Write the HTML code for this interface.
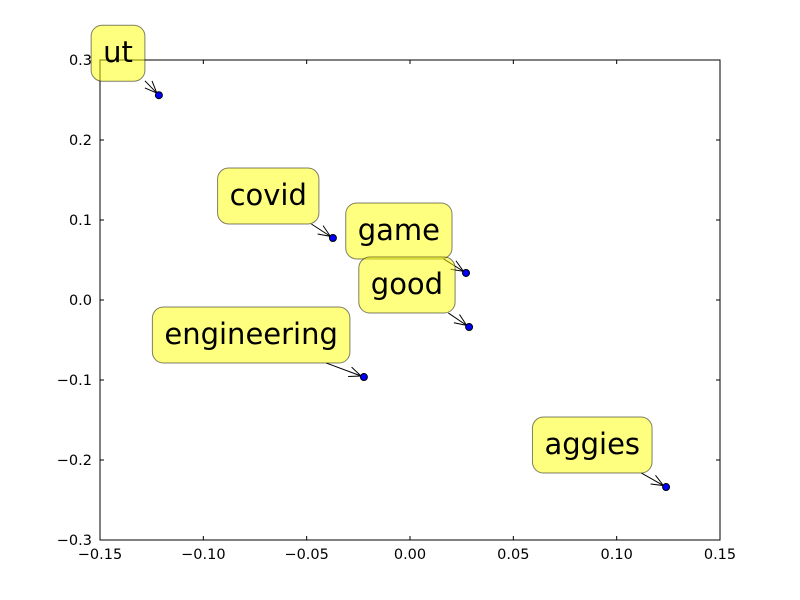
<!DOCTYPE html>
<html><head><meta charset="utf-8"><style>
body{margin:0;background:#fff;}
svg{display:block;font-family:"DejaVu Sans","Liberation Sans",sans-serif;}
</style></head><body>
<svg id="chart" width="800" height="600">
<rect width="800" height="600" fill="#fff"/>
<g id="axes"></g>
<g id="marks"></g>
</svg>
<script>
const words = ["ut","covid","game","good","engineering","aggies"];
const xVals = [-0.1215,-0.0373,0.0271,0.0286,-0.0223,0.1239];
const yVals = [0.256,0.0775,0.0338,-0.0338,-0.0963,-0.2338];
const xTicks = [-0.15,-0.10,-0.05,0.00,0.05,0.10,0.15];
const yTicks = [-0.3,-0.2,-0.1,0.0,0.1,0.2,0.3];
const xTickLabels = ["−0.15","−0.10","−0.05","0.00","0.05","0.10","0.15"];
const yTickLabels = ["−0.3","−0.2","−0.1","0.0","0.1","0.2","0.3"];

const L=100,R=720,T=60,B=540;
const sx=v=>L+(v+0.15)/0.3*(R-L);
const sy=v=>T+(0.3-v)/0.6*(B-T);
const NS="http://www.w3.org/2000/svg";
function mk(tag,attrs,parent){const e=document.createElementNS(NS,tag);for(const k in attrs)e.setAttribute(k,attrs[k]);parent.appendChild(e);return e;}
const axes=document.getElementById('axes'), marks=document.getElementById('marks');

const frame=mk('rect',{x:L,y:T,width:R-L,height:B-T,fill:'none',stroke:'#000','stroke-width':1},axes);



xTicks.forEach((v,i)=>{
  const x=sx(v);
  mk('line',{x1:x,y1:B,x2:x,y2:B-4,stroke:'#000'},axes);
  mk('line',{x1:x,y1:T,x2:x,y2:T+4,stroke:'#000'},axes);
  const t=mk('text',{x:x,y:B+19,'text-anchor':'middle','font-size':14.5},axes);
  t.textContent=xTickLabels[i];
  
  
});
yTicks.forEach((v,i)=>{
  const y=sy(v);
  mk('line',{x1:L,y1:y,x2:L+4,y2:y,stroke:'#000'},axes);
  mk('line',{x1:R,y1:y,x2:R-4,y2:y,stroke:'#000'},axes);
  const t=mk('text',{x:L-8,y:y+5,'text-anchor':'end','font-size':14.5},axes);
  t.textContent=yTickLabels[i];
  
  
});

words.forEach((w,i)=>{
  const px=sx(xVals[i]), py=sy(yVals[i]);
  const g=mk('g',{},marks);
  
  
  const tx=mk('text',{x:0,y:0,'text-anchor':'middle','font-size':29},g);
  tx.textContent=w;
  
  
  const tw=tx.getComputedTextLength();
  const bw=tw+24, bh=56;
  const bx=px-14-bw, by=py-14-bh;
  const cx=bx+bw/2, cy=by+bh/2;
  tx.setAttribute('x',cx); tx.setAttribute('y',cy+9);
  const dx=px-cx, dy=py-cy;
  const t=Math.min((bw/2)/Math.abs(dx),(bh/2)/Math.abs(dy));
  const x0=cx+dx*t, y0=cy+dy*t;
  const len=Math.hypot(dx,dy), ux=dx/len, uy=dy/len;
  const ex=px-ux*3, ey=py-uy*3;
  mk('line',{x1:x0,y1:y0,x2:ex,y2:ey,stroke:'#000','stroke-width':1},g);
  const ah=12, aw=5;
  const bxp=ex-ux*ah, byp=ey-uy*ah;
  mk('polyline',{points:`${bxp-uy*aw},${byp+ux*aw} ${ex},${ey} ${bxp+uy*aw},${byp-ux*aw}`,fill:'none',stroke:'#000','stroke-width':1},g);
  const box=mk('rect',{x:bx,y:by,width:bw,height:bh,rx:11,ry:11,fill:'rgba(255,255,0,0.5)',stroke:'rgba(0,0,0,0.5)','stroke-width':1},g);
  
  
  g.appendChild(tx);
  const c=mk('circle',{cx:px,cy:py,r:3.5,fill:'#0000ff',stroke:'#000','stroke-width':1},g);
  
  
});
</script>
</body></html>
